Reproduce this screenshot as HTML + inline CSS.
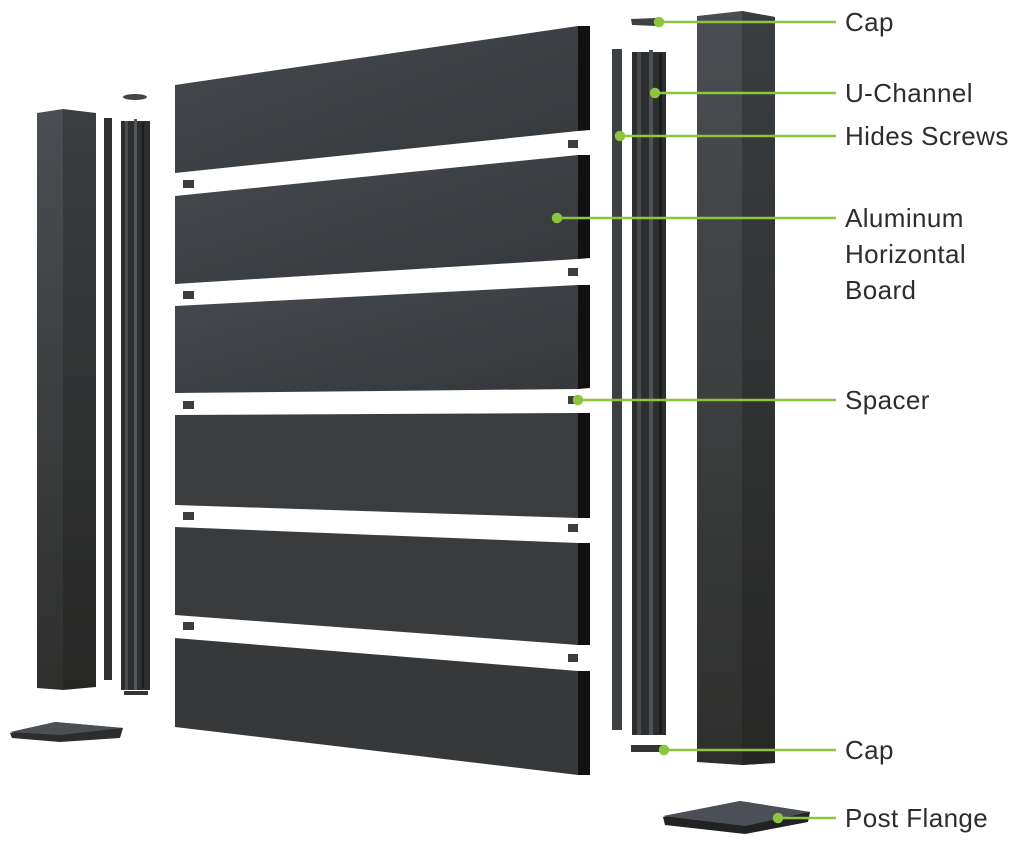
<!DOCTYPE html>
<html><head><meta charset="utf-8"><style>
body{margin:0;background:#fff;}
svg{display:block}
text{font-family:"Liberation Sans",sans-serif;font-size:26px;fill:#2d2d2d;letter-spacing:0.4px}
</style></head><body>
<svg width="1024" height="842" viewBox="0 0 1024 842">
<defs>
<linearGradient id="bd" x1="0" y1="0" x2="1" y2="1"><stop offset="0" stop-color="#45494d"/><stop offset="1" stop-color="#35383b"/></linearGradient>
<linearGradient id="pl" x1="0" y1="0" x2="0" y2="1"><stop offset="0" stop-color="#4a4e52"/><stop offset="1" stop-color="#2e2f2d"/></linearGradient>
<linearGradient id="pd" x1="0" y1="0" x2="0" y2="1"><stop offset="0" stop-color="#3a3d40"/><stop offset="1" stop-color="#262725"/></linearGradient>
</defs>
<g>
<polygon points="175,85 578,26 578,131 175,173" fill="url(#bd)"/><polygon points="578,26 590,26 590,130 578,131" fill="#111"/>
<polygon points="175,196 578,155 578,259 175,284" fill="url(#bd)"/><polygon points="578,155 590,155 590,258 578,259" fill="#111"/>
<polygon points="175,306 578,285 578,389 175,393" fill="url(#bd)"/><polygon points="578,285 590,285 590,388 578,389" fill="#111"/>
<polygon points="175,415 578,413 578,518 175,505" fill="#3a3c3e"/><polygon points="578,413 590,413 590,518 578,518" fill="#111"/>
<polygon points="175,527 578,543 578,645 175,615" fill="#393b3d"/><polygon points="578,543 590,543 590,645 578,645" fill="#111"/>
<polygon points="175,638 578,671 578,775 175,727" fill="#36383a"/><polygon points="578,671 590,671 590,775 578,775" fill="#111"/>
</g>
<g fill="#3b3d3f">
<rect x="183" y="180" width="11" height="8"/><rect x="183" y="291" width="11" height="8"/><rect x="183" y="401" width="11" height="8"/><rect x="183" y="512" width="11" height="8"/><rect x="183" y="622" width="11" height="8"/>
<rect x="568" y="140" width="10" height="8"/><rect x="568" y="268" width="10" height="8"/><rect x="568" y="396" width="10" height="8"/><rect x="568" y="524" width="10" height="8"/><rect x="568" y="654" width="10" height="8"/>
</g>
<polygon points="37,113 63,109 63,690 37,688" fill="url(#pl)"/>
<polygon points="63,109 96,113 96,687 63,690" fill="url(#pd)"/>
<rect x="104" y="118" width="8" height="562" fill="#2f3133"/>
<rect x="121" y="121" width="29" height="569" fill="#2c2e30"/>
<rect x="125" y="121" width="3" height="569" fill="#4a4d50"/><rect x="134" y="119" width="3" height="571" fill="#55585b"/><rect x="142" y="123" width="2" height="565" fill="#1a1b1c"/>
<ellipse cx="135" cy="97" rx="12" ry="3" fill="#444"/>
<rect x="124" y="691" width="24" height="4" fill="#333"/>
<polygon points="10,733 55,722 123,728 120,738 60,742 12,738" fill="#2c2d2e"/><polygon points="10,732 55,722 123,728 60,735" fill="#4c5054"/>
<polygon points="631,19 656,18 663,22 656,26 632,25" fill="#3e4144"/>
<rect x="612" y="49" width="10" height="681" fill="#3d4043"/>
<rect x="632" y="52" width="34" height="683" fill="#2c2e30"/>
<rect x="637" y="52" width="4" height="683" fill="#484b4e"/><rect x="649" y="50" width="4" height="685" fill="#4f5255"/><rect x="659" y="54" width="3" height="680" fill="#1b1c1d"/>
<polygon points="697,16 742,11 775,17 775,763 742,765 697,762" fill="url(#pl)"/>
<polygon points="742,11 775,17 775,763 742,765" fill="url(#pd)"/>
<rect x="631" y="745" width="32" height="7" fill="#333"/>
<polygon points="663,817 740,801 810,812 808,822 745,834 665,825" fill="#222"/><polygon points="663,816 740,801 810,812 745,826" fill="#4c5056"/>
<g stroke="#8cc63f" stroke-width="2.5" fill="#8cc63f">
<line x1="659" y1="22" x2="836" y2="22"/><circle cx="659" cy="22" r="4"/>
<line x1="655" y1="93" x2="836" y2="93"/><circle cx="655" cy="93" r="4"/>
<line x1="620" y1="136" x2="836" y2="136"/><circle cx="620" cy="136" r="4"/>
<line x1="557" y1="218" x2="836" y2="218"/><circle cx="557" cy="218" r="4"/>
<line x1="578" y1="400" x2="836" y2="400"/><circle cx="578" cy="400" r="4"/>
<line x1="664" y1="750" x2="836" y2="750"/><circle cx="664" cy="750" r="4"/>
<line x1="778" y1="818" x2="836" y2="818"/><circle cx="778" cy="818" r="4"/>
</g>
<text x="845" y="31">Cap</text>
<text x="845" y="102">U-Channel</text>
<text x="845" y="145">Hides Screws</text>
<text x="845" y="227">Aluminum</text>
<text x="845" y="263">Horizontal</text>
<text x="845" y="299">Board</text>
<text x="845" y="409">Spacer</text>
<text x="845" y="759">Cap</text>
<text x="845" y="827">Post Flange</text>
</svg>
</body></html>
